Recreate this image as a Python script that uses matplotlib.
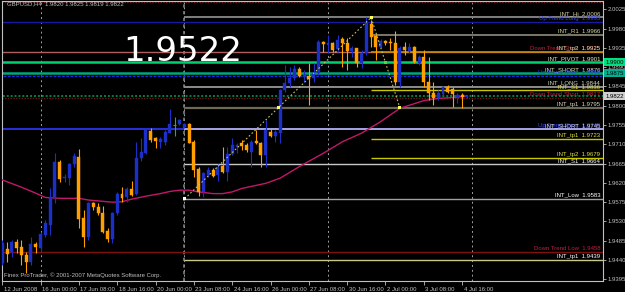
import matplotlib.pyplot as plt
import matplotlib.transforms as mtransforms

# GBPUSD H4, bar 0 = 12 Jun 2008 16:00, last bar = 4 Jul 20:00
opens = [1.9433, 1.9465, 1.9459, 1.9483, 1.9471, 1.9452, 1.9436, 1.9477, 1.9469, 1.9498,
         1.9522, 1.9588, 1.9669, 1.9631, 1.9631, 1.9663, 1.9681, 1.9537, 1.9493, 1.9574,
         1.9564, 1.9549, 1.9508, 1.9488, 1.9549, 1.9593, 1.9586, 1.9605, 1.9594, 1.9677,
         1.9689, 1.9742, 1.9724, 1.9716, 1.9716, 1.9737, 1.9756, 1.9757, 1.9750, 1.9757,
         1.9716, 1.9652, 1.9599, 1.9638, 1.9650, 1.9638, 1.9659, 1.9646, 1.9687, 1.9704,
         1.9714, 1.9708, 1.9693, 1.9718, 1.9712, 1.9685, 1.9739, 1.9730, 1.9736, 1.9837,
         1.9852, 1.9864, 1.9885, 1.9868, 1.9869, 1.9864, 1.9876, 1.9948, 1.9942, 1.9946,
         1.9932, 1.9955, 1.9947, 1.9928, 1.9934, 1.9899, 1.9922, 1.9991, 1.9963, 1.9938,
         1.9952, 1.9949, 1.9946, 1.9856, 1.9936, 1.9928, 1.9936, 1.9900, 1.9913, 1.9856,
         1.9829, 1.9817, 1.9827, 1.9843, 1.9838, 1.9820, 1.9826, 1.9820]
highs = [1.9487, 1.9482, 1.9487, 1.9488, 1.9487, 1.9459, 1.9494, 1.9483, 1.9506, 1.9533,
         1.9607, 1.9689, 1.9673, 1.9641, 1.9666, 1.9689, 1.9698, 1.9557, 1.9576, 1.9576,
         1.9572, 1.9566, 1.9514, 1.9553, 1.9599, 1.9611, 1.9611, 1.9625, 1.9716, 1.9725,
         1.9747, 1.9747, 1.9728, 1.9728, 1.9743, 1.9792, 1.9774, 1.9768, 1.9760, 1.9759,
         1.9720, 1.9658, 1.9646, 1.9656, 1.9654, 1.9664, 1.9704, 1.9704, 1.9724, 1.9712,
         1.9720, 1.9712, 1.9720, 1.9743, 1.9716, 1.9767, 1.9747, 1.9743, 1.9838, 1.9895,
         1.9891, 1.9895, 1.9890, 1.9883, 1.9899, 1.9899, 1.9953, 1.9951, 1.9965, 1.9949,
         1.9965, 1.9961, 1.9957, 1.9939, 1.9935, 1.9930, 2.0006, 1.9999, 1.9967, 1.9955,
         1.9953, 1.9958, 1.9975, 1.9939, 1.9948, 1.9946, 1.9939, 1.9918, 1.9930, 1.9914,
         1.9856, 1.9837, 1.9846, 1.9848, 1.9843, 1.9829, 1.9829, 1.9825]
lows = [1.9428, 1.9435, 1.9448, 1.9457, 1.9428, 1.9409, 1.9428, 1.9456, 1.9459, 1.9494,
        1.9498, 1.9572, 1.9623, 1.9623, 1.9615, 1.9658, 1.9514, 1.9471, 1.9487, 1.9557,
        1.9545, 1.9502, 1.9483, 1.9479, 1.9545, 1.9576, 1.9576, 1.9589, 1.9592, 1.9672,
        1.9687, 1.9716, 1.9701, 1.9701, 1.9708, 1.9736, 1.9730, 1.9755, 1.9747, 1.9712,
        1.9633, 1.9589, 1.9588, 1.9634, 1.9633, 1.9625, 1.9642, 1.9625, 1.9685, 1.9689,
        1.9697, 1.9693, 1.9658, 1.9711, 1.9658, 1.9658, 1.9728, 1.9716, 1.9714, 1.9833,
        1.9844, 1.9860, 1.9868, 1.9856, 1.9802, 1.9856, 1.9872, 1.9926, 1.9922, 1.9926,
        1.9926, 1.9891, 1.9883, 1.9914, 1.9891, 1.9887, 1.9918, 1.9938, 1.9907, 1.9934,
        1.9942, 1.9930, 1.9848, 1.9844, 1.9918, 1.9922, 1.9899, 1.9895, 1.9844, 1.9813,
        1.9802, 1.9813, 1.9825, 1.9830, 1.9798, 1.9806, 1.9794, 1.9819]
closes = [1.9480, 1.9454, 1.9483, 1.9467, 1.9452, 1.9435, 1.9477, 1.9471, 1.9500, 1.9526,
          1.9588, 1.9669, 1.9628, 1.9633, 1.9663, 1.9683, 1.9535, 1.9493, 1.9572, 1.9563,
          1.9549, 1.9506, 1.9489, 1.9549, 1.9593, 1.9584, 1.9605, 1.9592, 1.9677, 1.9692,
          1.9743, 1.9720, 1.9718, 1.9722, 1.9739, 1.9757, 1.9756, 1.9767, 1.9757, 1.9714,
          1.9650, 1.9599, 1.9642, 1.9650, 1.9636, 1.9656, 1.9646, 1.9687, 1.9708, 1.9708,
          1.9706, 1.9697, 1.9716, 1.9712, 1.9685, 1.9743, 1.9729, 1.9738, 1.9837, 1.9852,
          1.9864, 1.9885, 1.9869, 1.9872, 1.9862, 1.9876, 1.9949, 1.9943, 1.9946, 1.9930,
          1.9953, 1.9946, 1.9928, 1.9935, 1.9899, 1.9924, 1.9992, 1.9961, 1.9936, 1.9952,
          1.9946, 1.9946, 1.9856, 1.9934, 1.9930, 1.9936, 1.9903, 1.9914, 1.9856, 1.9829,
          1.9817, 1.9829, 1.9843, 1.9833, 1.9827, 1.9825, 1.9821, 1.9822]

# moving average
ma_bars = [0, 4, 7, 9, 12, 16, 18, 23, 25, 27, 30, 33, 35, 37, 39, 41, 44, 46, 48, 50,
           55, 58, 62, 67, 71, 75, 79, 83, 88, 91, 95, 97]
ma_vals = [1.9627, 1.9610, 1.9596, 1.9586, 1.9584, 1.9584, 1.9580, 1.9575, 1.9576, 1.9582,
           1.9589, 1.9595, 1.9600, 1.9603, 1.9603, 1.9599, 1.9595, 1.9595, 1.9599, 1.9607,
           1.9619, 1.9631, 1.9658, 1.9689, 1.9716, 1.9736, 1.9763, 1.9794, 1.9812, 1.9817,
           1.9820, 1.9823]

# horizontal levels
level_names = ["INT_Hi", "Up Trend Long", "INT_R1", "Down Trend Short", "INT_tp2", "INT_PIVOT",
               "INT_SHORT", "Up Trend Short", "INT_LONG", "INT_S1", "", "Down Trend Short",
               "INT_tp1", "Up Trend Short", "INT_SHORT", "INT_tp1", "INT_tp2", "INT_S1",
               "INT_Low", "Down Trend Low", "INT_tp1"]
level_prices = [2.0006, 1.9995, 1.9966, 1.9925, 1.9925, 1.9901, 1.9876, 1.9869, 1.9844, 1.9836,
                1.9823, 1.9817, 1.9795, 1.9745, 1.9745, 1.9723, 1.9679, 1.9664, 1.9583, 1.9458,
                1.9439]

# zigzag between swing points
swing_bars = [38.1, 57.6, 77.0, 80.0, 83.0]
swing_prices = [1.9583, 1.9795, 2.0006, 1.9901, 1.9795]

time_bars = [0, 8, 16, 24, 32, 40, 48, 56, 64, 72, 80, 88, 96]
time_labels = ["12 Jun 2008", "16 Jun 00:00", "17 Jun 08:00", "18 Jun 16:00", "20 Jun 00:00",
               "23 Jun 08:00", "24 Jun 16:00", "26 Jun 00:00", "27 Jun 08:00", "30 Jun 16:00",
               "2 Jul 00:00", "3 Jul 08:00", "4 Jul 16:00"]
price_ticks = [2.0025, 1.9980, 1.9935, 1.9890, 1.9845, 1.9800, 1.9755, 1.9710, 1.9665,
               1.9620, 1.9575, 1.9530, 1.9485, 1.9440, 1.9395]

plt.rcParams['font.family'] = ['Liberation Sans', 'DejaVu Sans']
fs = 4.3

fig = plt.figure(figsize=(6.25, 2.92), dpi=100, facecolor='black')
ax = fig.add_axes([2 / 625, 1 - 281 / 292, 601 / 625, 280 / 292])
ax.set_facecolor('black')
x_right = 125.4
ax.set_xlim(-0.05, x_right)
ax.set_ylim(1.93911, 2.00444)

# vertical grid
for gx in [8, 38, 68, 98]:
    ax.axvline(gx, color='#a0a0a0', lw=0.7, ls=(0, (2, 3)), zorder=1)
ax.axvline(38, color='#808080', lw=1.2, ls=(0, (2, 2)), zorder=1)

# level styles: (colour, width, linestyle, start bar, label colour)
level_styles = [
    ('#808080', 1.4, '-', 38, '#d8d8a0'),
    ('#1818a0', 1.0, '-', -1, '#3040ff'),
    ('#7a7a6a', 1.4, '-', 77, '#d8d8a0'),
    ('#b06060', 1.0, '-', -1, '#c02040'),
    ('#c89000', 1.2, '-', 77, '#d8d8a0'),
    ('#00d070', 1.8, '-', -1, '#e8e8c0'),
    ('#00a878', 1.8, '-', -1, '#e8e8c0'),
    ('#2828e0', 1.0, (0, (2, 1)), -1, '#3040ff'),
    ('#8c8c8c', 1.4, '-', 38, '#d8d8c0'),
    ('#c8c800', 1.0, '-', 77, '#e0e040'),
    ('#008048', 1.4, (0, (1, 1)), -1, None),
    ('#701818', 1.0, (0, (1, 1)), -1, '#c02040'),
    ('#6e6a58', 1.6, '-', 38, '#d8d8c0'),
    ('#3038ff', 1.2, '-', -1, '#3040ff'),
    ('#b8b8e0', 1.2, '-', 38, '#e0e0e0'),
    ('#c8c800', 1.0, '-', 77, '#e0e040'),
    ('#c8c800', 1.0, '-', 77, '#e0e040'),
    ('#c8c8c8', 1.0, '-', 38, '#ffffff'),
    ('#a0a0a0', 1.0, '-', 38, '#ffffff'),
    ('#801010', 1.0, '-', -1, '#c02040'),
    ('#c8c890', 1.0, '-', 38, '#ffffff'),
]
for name, price, (col, lw, ls, start, lcol) in zip(level_names, level_prices, level_styles):
    ax.hlines(price, start, x_right, colors=col, lw=lw, linestyles=ls, zorder=2)
    if lcol is not None and name:
        ax.text(124.8, price + 0.00025, f"{name}  {price:.4f}", color=lcol, fontsize=fs,
                ha='right', va='bottom', zorder=6)
ax.hlines(2.0042, -1, x_right, colors='#701818', lw=1.0, linestyles=(0, (1, 1)), zorder=2)

# moving average
ax.plot(ma_bars, ma_vals, color='#c0186a', lw=1.0, zorder=3)

# candles
up_col, dn_col = '#1c30c8', '#ffa000'
for i, (o, h, l, c) in enumerate(zip(opens, highs, lows, closes)):
    if abs(c - o) < 0.00002:
        ax.vlines(i, l, h, colors='#00d000', lw=0.8, zorder=4)
        ax.hlines(o, i - 0.3, i + 0.3, colors='#00d000', lw=0.8, zorder=4)
        continue
    col = up_col if c > o else dn_col
    ax.vlines(i, l, h, colors=col, lw=0.8, zorder=4)
    ax.bar(i, max(abs(c - o), 0.00012), bottom=min(o, c), width=0.62, color=col,
           edgecolor=col, lw=0.3, zorder=5)

# swing zigzag
ax.plot([swing_bars[0], swing_bars[2], swing_bars[4]],
        [swing_prices[0], swing_prices[2], swing_prices[4]],
        color='#c8c060', lw=0.8, ls=(0, (1.5, 2)), zorder=6)
mk_cols = ['#ffffff', '#ffff60', '#ffff60', '#40e040', '#ffff60']
ax.scatter(swing_bars, swing_prices, s=5, marker='s', c=mk_cols, zorder=7, lw=0)

# texts
ax.text(1, 2.0037, "GBPUSD,H4  1.9820 1.9825 1.9819 1.9822", color='#c0c0c0', fontsize=fs,
        ha='left', va='center')
ax.text(25.3, 1.9905, "1.9522", color='white', fontsize=24.5, family='DejaVu Sans',
        ha='left', va='baseline', zorder=8)
ax.text(0.3, 1.9398, "Finex ProTrader, \u00a9 2001-2007 MetaQuotes Software Corp.",
        color='#c0c0c0', fontsize=fs, ha='left', va='bottom', zorder=8)

# axes
for s in ax.spines.values():
    s.set_color('#c0c0c0')
    s.set_linewidth(0.8)
ax.yaxis.tick_right()
ax.set_yticks(price_ticks)
ax.set_yticklabels([f"{p:.4f}" for p in price_ticks])
ax.tick_params(axis='y', colors='#c0c0c0', labelsize=fs, length=2, width=0.6, pad=1.5)
ax.set_xticks(time_bars)
ax.set_xticklabels(time_labels)
ax.tick_params(axis='x', colors='#c0c0c0', labelsize=fs, length=3, width=0.6, pad=1.5)
off = mtransforms.ScaledTranslation(1.5 / 100, 0, fig.dpi_scale_trans)
for lab in ax.get_xticklabels():
    lab.set_horizontalalignment('left')
    lab.set_transform(lab.get_transform() + off)

# price boxes on the right scale
yx = ax.get_yaxis_transform()
box_prices = [1.9901, 1.9876, 1.9822]
box_text = ["1.9900", "1.9875", "1.9822"]
box_cols = ['#00e080', '#00b090', '#d0d0d0']
for p, t, bc in zip(box_prices, box_text, box_cols):
    ax.text(1.004, p, t, transform=yx, fontsize=fs, color='black', ha='left', va='center',
            bbox=dict(boxstyle='square,pad=0.25', fc=bc, ec='none'), zorder=9, clip_on=False)

fig.savefig('out.png', dpi=100, facecolor='black')
